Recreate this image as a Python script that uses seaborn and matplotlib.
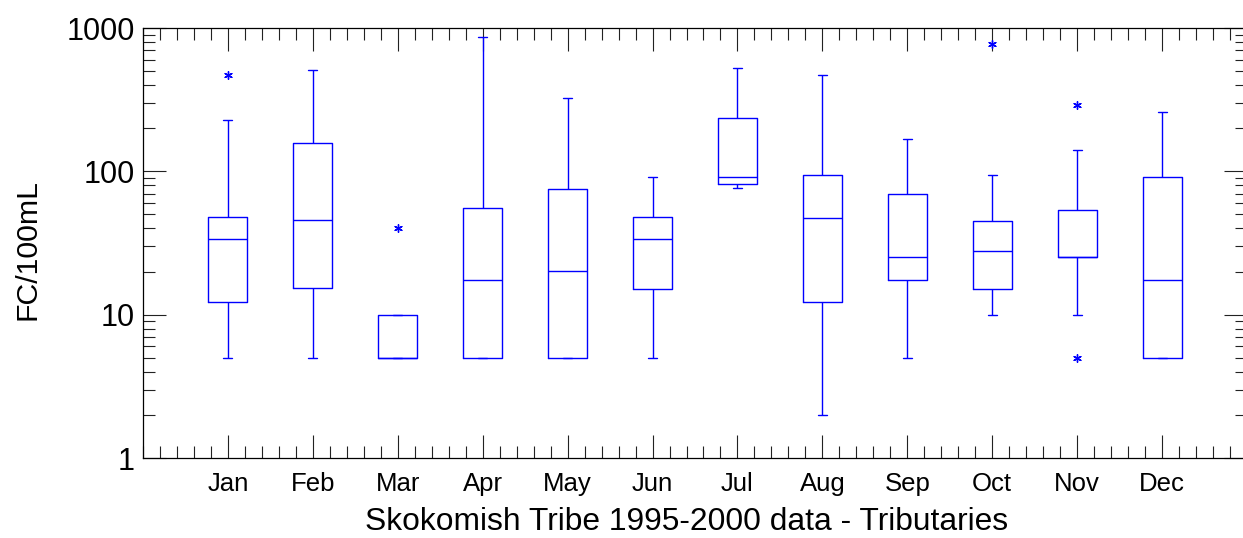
import numpy as np
import pandas as pd
import matplotlib
matplotlib.use("Agg")
import matplotlib.pyplot as plt
import seaborn as sns
from matplotlib.ticker import FixedLocator, MultipleLocator, LogLocator, FuncFormatter, NullFormatter

# ---- data ----
months = ["Jan", "Feb", "Mar", "Apr", "May", "Jun", "Jul", "Aug", "Sep", "Oct", "Nov", "Dec"]
month_pos = [1, 2, 3, 4, 5, 6, 7, 8, 9, 10, 11, 12]
whisker_low = [5, 5, 5, 5, 5, 5, 76, 2, 5, 10, 10, 5]
q1 = [12.3, 15.3, 5, 5, 5, 15.2, 81.6, 12.3, 17.5, 15.2, 25.3, 5]
median = [33.6, 45.6, 5, 17.5, 20.2, 33.6, 91.8, 47.5, 25.3, 27.7, 25.3, 17.5]
q3 = [48.3, 158, 10, 55.5, 75, 48.3, 234, 95, 69.5, 45.3, 53.5, 92]
whisker_high = [229, 512, 10, 865, 325, 91, 523, 470, 168, 94, 140, 261]
outlier_month = [1, 3, 10, 11, 11]
outlier_value = [472, 40, 770, 290, 5]

xlabel = "Skokomish Tribe 1995-2000 data - Tributaries"
ylabel = "FC/100mL"

# long table for seaborn: five summary points per month
rows = []
for m, a, b, c, d, e in zip(month_pos, whisker_low, q1, median, q3, whisker_high):
    for v in (a, b, c, d, e):
        rows.append({"month": m, "value": v})
df = pd.DataFrame(rows)
out_df = pd.DataFrame({"month": outlier_month, "value": outlier_value})

sns.set_style("white")
plt.rcParams["font.family"] = ["Liberation Sans", "DejaVu Sans"]
plt.rcParams["text.color"] = "black"
plt.rcParams["axes.labelcolor"] = "black"
plt.rcParams["xtick.color"] = "black"
plt.rcParams["ytick.color"] = "black"

W, H = 1243, 538
fig = plt.figure(figsize=(W / 100, H / 100), dpi=100)
ax = fig.add_axes([143 / W, 80 / H, 1104 / W, 430 / H])
ax.set_yscale("log")

blue = "#0000FF"
sns.boxplot(data=df, x="month", y="value", native_scale=True, whis=(0, 100),
            width=0.46, fill=False, color=blue, linecolor=blue, linewidth=1.0,
            showfliers=False, ax=ax)

# narrow caps
for cont in ax.containers:
    caps = getattr(cont, "caps", None)
    if caps is None:
        continue
    for cap in caps:
        xd = np.asarray(cap.get_xdata(), dtype=float)
        c = xd.mean()
        cap.set_xdata([c - 0.053, c + 0.053])

sns.scatterplot(data=out_df, x="month", y="value", marker=(6, 2, 0), s=30,
                color=blue, edgecolor=blue, linewidth=1.0, ax=ax, zorder=5)

ax.set_xlim(0, 13)
ax.set_ylim(1, 1000)

ax.xaxis.set_major_locator(FixedLocator(month_pos))
ax.set_xticklabels(months)
ax.xaxis.set_minor_locator(MultipleLocator(0.2))
ax.yaxis.set_major_locator(LogLocator(base=10, numticks=10))
ax.yaxis.set_major_formatter(FuncFormatter(lambda v, p: f"{v:g}"))
ax.yaxis.set_minor_locator(LogLocator(base=10, subs=np.arange(2, 10), numticks=50))
ax.yaxis.set_minor_formatter(NullFormatter())

ax.tick_params(which="both", direction="in", top=True, right=True, left=True, bottom=True,
               color="#222222", width=0.8, labelcolor="black")
ax.tick_params(which="major", length=16.5)
ax.tick_params(which="minor", length=8.6)
ax.tick_params(axis="x", which="major", labelsize=18.5, pad=10)
ax.tick_params(axis="y", which="major", labelsize=22, pad=5.8)

for s in ax.spines.values():
    s.set_color("black")
    s.set_linewidth(0.9)

ax.set_xlabel(xlabel, fontsize=22.9, color="black")
ax.set_ylabel(ylabel, fontsize=21.8, color="black")
ax.xaxis.set_label_coords((687 - 143) / 1104, -0.114)
ax.yaxis.set_label_coords((42 - 143) / 1104, 0.486)
ax.grid(False)

fig.savefig("out.png", dpi=100)
